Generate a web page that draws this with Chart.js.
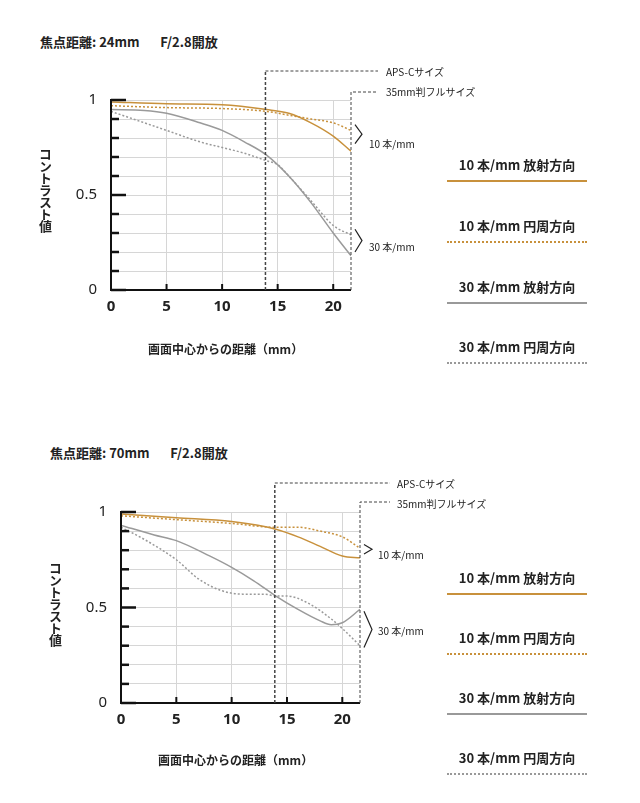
<!DOCTYPE html>
<html><head><meta charset="utf-8">
<script src="https://cdn.jsdelivr.net/npm/chart.js@4/dist/chart.umd.min.js"></script>
<style>
body{margin:0;width:640px;height:803px;background:#fff;position:relative;font-family:"Noto Sans CJK JP","Noto Sans",sans-serif;color:#222;overflow:hidden}
.t{position:absolute;white-space:nowrap}
.title{font-size:13px;font-weight:bold}
.sm{font-size:10px}
.yt{font-size:13px;font-weight:bold;writing-mode:vertical-rl;letter-spacing:-1px}
.xt{font-size:12px;font-weight:bold}
.lg{position:absolute;left:447px;width:140px;text-align:center;font-size:13px;font-weight:bold;padding-bottom:6px}
canvas{position:absolute;left:0}
</style></head><body>
<div class="t title" style="left:40px;top:32px">焦点距離: 24mm&nbsp;&nbsp;&nbsp;&nbsp;&nbsp;&nbsp;&nbsp;F/2.8開放</div>
<div class="t title" style="left:50px;top:443px">焦点距離: 70mm&nbsp;&nbsp;&nbsp;&nbsp;&nbsp;&nbsp;&nbsp;F/2.8開放</div>
<div style="position:absolute;left:0;top:0;width:640px;height:400px"><canvas id="c1"></canvas></div>
<div style="position:absolute;left:0;top:410px;width:640px;height:400px"><canvas id="c2"></canvas></div>
<div class="t sm" style="left:386px;top:64px">APS-Cサイズ</div>
<div class="t sm" style="left:386px;top:84px">35mm判フルサイズ</div>
<div class="t sm" style="left:369px;top:136px">10 本/mm</div>
<div class="t sm" style="left:369px;top:239px">30 本/mm</div>
<div class="t yt" style="left:36px;top:148px">コントラスト値</div>
<div class="t xt" style="left:148px;top:340px">画面中心からの距離（mm）</div>
<div class="t sm" style="left:397px;top:476px">APS-Cサイズ</div>
<div class="t sm" style="left:397px;top:496px">35mm判フルサイズ</div>
<div class="t sm" style="left:378px;top:547px">10 本/mm</div>
<div class="t sm" style="left:378px;top:623px">30 本/mm</div>
<div class="t yt" style="left:46px;top:562px">コントラスト値</div>
<div class="t xt" style="left:158px;top:751px">画面中心からの距離（mm）</div>
<div class="lg" style="top:155px;border-bottom:2px solid #c8913c">10 本/mm 放射方向</div>
<div class="lg" style="top:216px;border-bottom:2px dotted #c8913c">10 本/mm 円周方向</div>
<div class="lg" style="top:277px;border-bottom:2px solid #999">30 本/mm 放射方向</div>
<div class="lg" style="top:337px;border-bottom:2px dotted #999">30 本/mm 円周方向</div>
<div class="lg" style="top:568px;border-bottom:2px solid #c8913c">10 本/mm 放射方向</div>
<div class="lg" style="top:628px;border-bottom:2px dotted #c8913c">10 本/mm 円周方向</div>
<div class="lg" style="top:688px;border-bottom:2px solid #999">30 本/mm 放射方向</div>
<div class="lg" style="top:748px;border-bottom:2px dotted #999">30 本/mm 円周方向</div>
<script>
// 24mm data
const a_r10x=[0,5,10,14,16,18,20,21.6], a_r10=[0.99,0.98,0.975,0.95,0.93,0.88,0.81,0.73];
const a_t10x=[0,5,10,14,16,18,20,21.6], a_t10=[0.97,0.96,0.955,0.94,0.92,0.90,0.88,0.84];
const a_r30x=[0,3,5,8,10,12,14,16,18,20,21.6], a_r30=[0.95,0.945,0.93,0.88,0.84,0.78,0.71,0.60,0.46,0.30,0.18];
const a_t30x=[0,2,5,8,10,12,14,15,16,18,20,21.6], a_t30=[0.94,0.90,0.84,0.78,0.75,0.72,0.68,0.66,0.60,0.47,0.34,0.29];
// 70mm data
const b_r10x=[0,5,10,14,16,18,20,21.6], b_r10=[0.99,0.97,0.95,0.91,0.87,0.82,0.77,0.76];
const b_t10x=[0,5,10,14,16,18,20,21.6], b_t10=[0.98,0.96,0.94,0.92,0.92,0.90,0.87,0.81];
const b_r30x=[0,3,5,8,10,12,14,16,18,19,20,21.6], b_r30=[0.93,0.88,0.85,0.77,0.71,0.64,0.56,0.49,0.43,0.41,0.42,0.49];
const b_t30x=[0,2,5,7,9,11,13,14,15,17,19,20,21.6], b_t30=[0.92,0.86,0.75,0.65,0.59,0.57,0.57,0.56,0.56,0.52,0.44,0.39,0.30];
const xTicks=[0,5,10,15,20], yLabels=[0,0.5,1];
const apsX=13.9, fullX=21.6;
const OR='#c8913c', GR='#9a9a9a';
const pts=(xs,ys)=>xs.map((x,i)=>({x,y:ys[i]}));
function ds(xs,ys,c,dot){return{data:pts(xs,ys),borderColor:c,borderWidth:1.5,borderDash:dot?[2,2]:[],pointRadius:0,cubicInterpolationMode:'monotone',fill:false};}
function make(id,sets,cfg){
 const deco={id:'deco',afterDraw(ch){
  const c=ch.ctx,xs=ch.scales.x,ys=ch.scales.y,a=ch.chartArea;
  c.save();c.strokeStyle='#111';
  for(let i=0;i<=10;i++){const v=i/10,y=ys.getPixelForValue(v);c.lineWidth=2.5;c.beginPath();c.moveTo(a.left,y);c.lineTo(a.left+(i%5==0?15:8),y);c.stroke();}
  xTicks.slice(1).forEach(v=>{const x=xs.getPixelForValue(v);c.lineWidth=2;c.beginPath();c.moveTo(x,a.bottom);c.lineTo(x,a.bottom-6);c.stroke();});
  c.lineWidth=2;c.beginPath();c.moveTo(a.left,a.top-1);c.lineTo(a.left,a.bottom);c.lineTo(xs.getPixelForValue(fullX),a.bottom);c.stroke();
  c.strokeStyle='#444';c.lineWidth=1;c.setLineDash([3,2]);
  const ax=xs.getPixelForValue(apsX),fx=xs.getPixelForValue(fullX);
  c.lineWidth=1.5;c.beginPath();c.moveTo(ax,a.bottom);c.lineTo(ax,cfg.apsY);c.stroke();
  c.lineWidth=1;c.beginPath();c.moveTo(ax,cfg.apsY);c.lineTo(cfg.lineEnd,cfg.apsY);c.stroke();
  c.beginPath();c.moveTo(fx,a.bottom);c.lineTo(fx,cfg.fullY);c.lineTo(cfg.lineEnd,cfg.fullY);c.stroke();
  c.setLineDash([]);c.strokeStyle='#222';c.lineWidth=1.2;
  cfg.br.forEach(b=>{const y1=ys.getPixelForValue(b[0]),y2=ys.getPixelForValue(b[1]),ym=(y1+y2)/2;c.beginPath();c.moveTo(fx+4,y1);c.lineTo(fx+4+b[2],ym);c.lineTo(fx+4,y2);c.stroke();});
  c.restore();}};
 new Chart(document.getElementById(id),{type:'line',data:{datasets:sets},plugins:[deco],
  options:{responsive:true,maintainAspectRatio:false,animation:false,
   layout:{padding:{left:0,right:640-cfg.right,top:cfg.top,bottom:70}},
   plugins:{legend:{display:false},tooltip:{enabled:false}},
   scales:{
    x:{type:'linear',min:0,max:21.6,afterBuildTicks:s=>{s.ticks=xTicks.map(v=>({value:v}));},afterFit:s=>{s.height=400-70-cfg.top-cfg.ph;},
      grid:{color:'#d6d6d6',drawTicks:false},border:{display:false},
      ticks:{color:'#222',font:{size:15,weight:'bold',family:'Noto Sans'},padding:8,maxRotation:0,autoSkip:false}},
    y:{min:0,max:1,afterFit:s=>{s.width=cfg.left;},
      afterBuildTicks:s=>{s.ticks=[...Array(11).keys()].map(i=>({value:i/10}));},
      grid:{color:'#d6d6d6',drawTicks:false},border:{display:false},
      ticks:{color:'#222',padding:14,autoSkip:false,font:{size:15,family:'Noto Sans'},callback:v=>yLabels.some(l=>Math.abs(l-v)<1e-6)?(Math.abs(v-0.5)<1e-6?'0.5':String(Math.round(v))):''}}
   }}});
}
make('c1',[ds(a_r10x,a_r10,OR,0),ds(a_t10x,a_t10,OR,1),ds(a_r30x,a_r30,GR,0),ds(a_t30x,a_t30,GR,1)],
 {left:111,right:351,top:100,ph:190,apsY:71,fullY:92,lineEnd:378,br:[[0.87,0.77,7],[0.32,0.2,7]]});
make('c2',[ds(b_r10x,b_r10,OR,0),ds(b_t10x,b_t10,OR,1),ds(b_r30x,b_r30,GR,0),ds(b_t30x,b_t30,GR,1)],
 {left:121,right:360,top:102,ph:191,apsY:73,fullY:92,lineEnd:390,br:[[0.83,0.78,8],[0.48,0.29,8]]});
</script></body></html>
